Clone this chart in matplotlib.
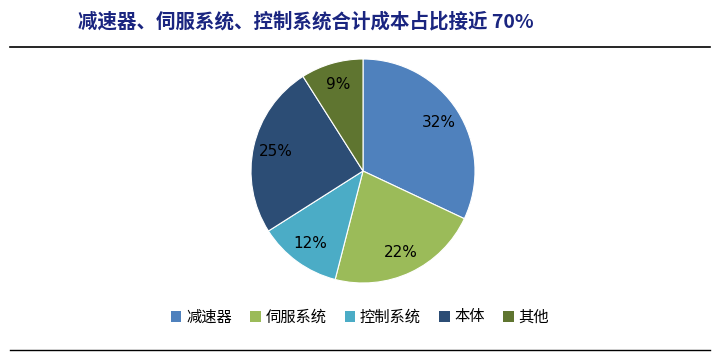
import matplotlib
matplotlib.use("Agg")
import matplotlib.pyplot as plt
from matplotlib.patches import Patch

plt.rcParams['font.family'] = ['Noto Sans CJK SC', 'DejaVu Sans']

title = "减速器、伺服系统、控制系统合计成本占比接近 70%"
categories = ["减速器", "伺服系统", "控制系统", "本体", "其他"]
values = [32, 22, 12, 25, 9]
colors = ["#4F81BD", "#9BBB59", "#4BACC6", "#2C4D75", "#5F7530"]

fig = plt.figure(figsize=(7.19, 3.57), dpi=100)
W, H = 719, 357

# pie axes: center (363,171), radius 112
r = 112
cx, cy = 363, 171
ax = fig.add_axes([(cx - r) / W, 1 - (cy + r) / H, 2 * r / W, 2 * r / H])
wedges, texts, autotexts = ax.pie(values, colors=colors, startangle=90, counterclock=False,
                                  autopct=lambda p: f"{p:.0f}%", pctdistance=0.8,
                                  wedgeprops=dict(linewidth=0.8, edgecolor="white"),
                                  textprops=dict(fontsize=11, color="black", family="DejaVu Sans"))
ax.set_xlim(-1, 1)
ax.set_ylim(-1, 1)
ax.set_aspect('auto')

fig.text(78 / W, 1 - 22 / H, title, fontsize=14, fontweight='bold', color="#1A2580",
         va='center', ha='left')
fig.add_artist(plt.Line2D([10 / W, 710 / W], [1 - 47 / H, 1 - 47 / H], color="black", lw=1.2))
fig.add_artist(plt.Line2D([10 / W, 710 / W], [1 - 350 / H, 1 - 350 / H], color="black", lw=1.0))

handles = [Patch(facecolor=c, edgecolor='none') for c in colors]
fig.legend(handles, categories, loc='center', bbox_to_anchor=(360 / W, 1 - 317 / H), ncol=5,
           frameon=False, fontsize=11, handlelength=0.7, handleheight=0.7,
           handletextpad=0.3, columnspacing=1.2)

fig.savefig("out.png", dpi=100)
